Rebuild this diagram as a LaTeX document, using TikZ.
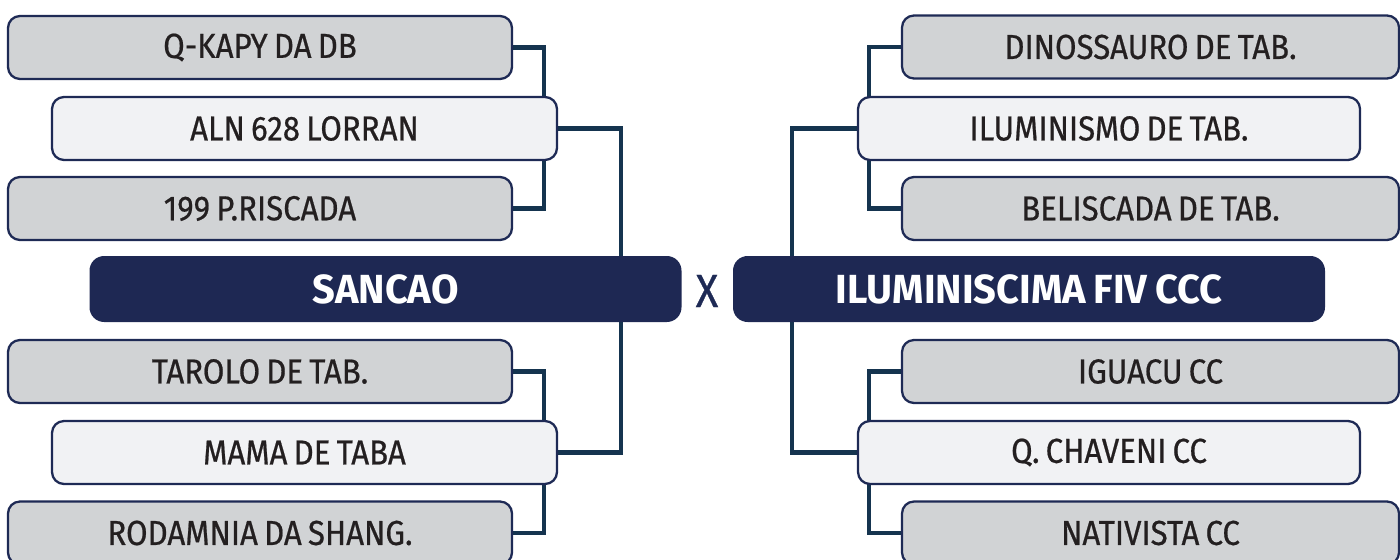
\documentclass[tikz,border=0pt]{standalone}
\usepackage{fontspec}
\usetikzlibrary{backgrounds}
\newfontfamily\boxfont{Fira Sans}[FakeStretch=0.9,FakeBold=0.6,WordSpace=0.75]
\newfontfamily\titlefont{Fira Sans}[FakeStretch=0.98,WordSpace=0.8]
\definecolor{grayfill}{HTML}{D1D3D5}
\definecolor{lightfill}{HTML}{F1F2F4}
\definecolor{navyline}{HTML}{1E2A55}
\definecolor{titlefill}{HTML}{1E2853}
\definecolor{conn}{HTML}{15344F}
\definecolor{txt}{HTML}{231F20}
\tikzset{
  teambox/.style={draw=navyline, line width=1.7pt, rounded corners=9pt,
    minimum height=47.25pt, inner sep=0pt, text=txt,
    font=\boxfont\fontsize{26}{30}\selectfont},
  outerbox/.style={teambox, fill=grayfill, minimum width=#1},
  innerbox/.style={teambox, fill=lightfill, minimum width=#1},
  titlebox/.style={fill=titlefill, rounded corners=11pt, minimum width=444pt,
    minimum height=49.5pt, inner sep=0pt, text=white,
    font=\titlefont\bfseries\fontsize{30.5}{34}\selectfont},
  link/.style={draw=conn, line width=3.4pt}
}
\begin{document}
\begin{tikzpicture}[x=0.75pt,y=-0.75pt]
\useasboundingbox (0,0) rectangle (1400,560);
\node[outerbox=378pt] (qkapy) at (260,47.5) {Q-KAPY DA DB};
\node[innerbox=378.75pt] (aln) at (304.5,128.5) {ALN 628 LORRAN};
\node[outerbox=378pt] (riscada) at (260,208.5) {199 P.RISCADA};
\node[outerbox=378pt] (tarolo) at (260,371.5) {TAROLO DE TAB.};
\node[innerbox=378.75pt] (mama) at (304.5,452.5) {MAMA DE TABA};
\node[outerbox=378pt] (rodamnia) at (260,533) {RODAMNIA DA SHANG.};
\node[outerbox=372.75pt] (dino) at (1150.5,47) {DINOSSAURO DE TAB.};
\node[innerbox=376.5pt] (ilum) at (1109,128.5) {ILUMINISMO DE TAB.};
\node[outerbox=372.75pt] (belis) at (1150.5,208.5) {BELISCADA DE TAB.};
\node[outerbox=372.75pt] (iguacu) at (1150.5,371.5) {IGUACU CC};
\node[innerbox=376.5pt] (chaveni) at (1109,452.5) {Q. CHAVENI CC};
\node[outerbox=372.75pt] (nativ) at (1150.5,533) {NATIVISTA CC};
\node[titlebox] (sancao) at (385.5,289) {SANCAO};
\node[titlebox] (ilumtitle) at (1029,289) {ILUMINISCIMA FIV CCC};
\node[text=navyline, inner sep=0pt, font=\boxfont\fontsize{35}{40}\selectfont] (vs) at (707,291) {X};
\begin{scope}[on background layer]
\path[link] (qkapy.east) -- ++(31,0) |- (riscada.east);
\path[link] (aln.east) -- ++(63,0) |- (mama.east);
\path[link] (tarolo.east) -- ++(31,0) |- (rodamnia.east);
\path[link] (dino.west) -- ++(-32,0) |- (belis.west);
\path[link] (ilum.west) -- ++(-65,0) |- (chaveni.west);
\path[link] (iguacu.west) -- ++(-32,0) |- (nativ.west);
\end{scope}
\end{tikzpicture}
\end{document}
